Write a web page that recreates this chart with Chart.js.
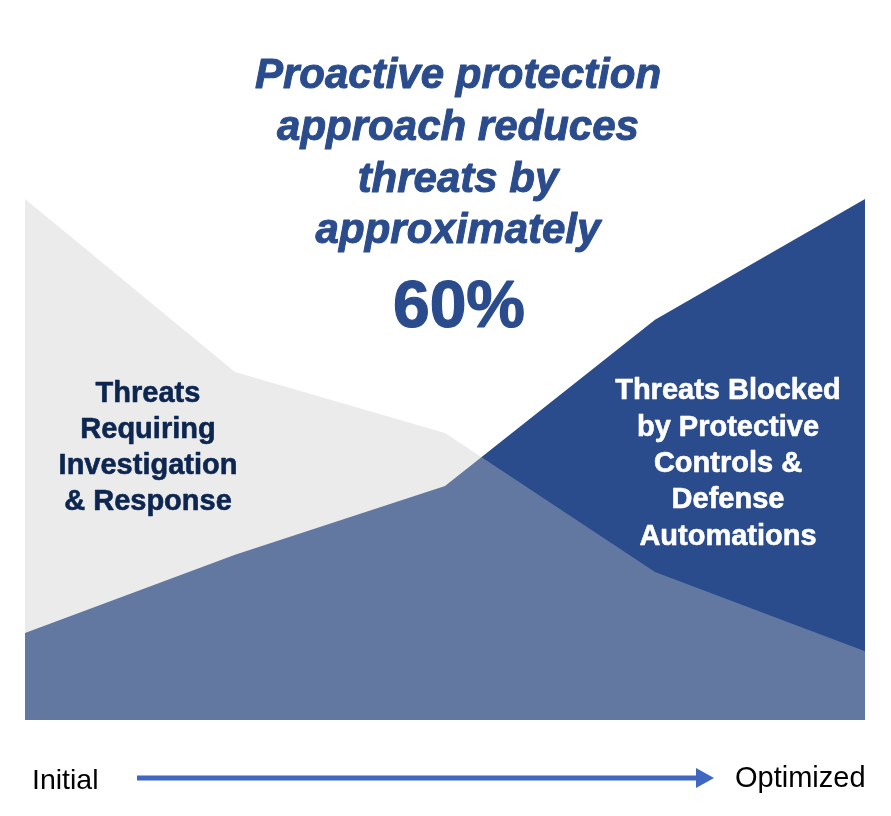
<!DOCTYPE html>
<html>
<head>
<meta charset="utf-8">
<script src="https://cdn.jsdelivr.net/npm/chart.js@4"></script>
<style>
    html, body { margin: 0; padding: 0; background: #ffffff; }
    #wrap { width: 891px; height: 816px; }
</style>
</head>
<body>
<div id="wrap"><canvas id="threat-chart" width="891" height="816"></canvas></div>
<script>
// data (share of peak threat volume, %)
const stages = ['Stage 1', 'Stage 2', 'Stage 3', 'Stage 4', 'Stage 5'];
const investigateValues = [100, 66.8, 55.1, 28.4, 13.2];
const blockedValues = [16.7, 31.7, 44.9, 76.8, 100];

// text
const titleLines = ['Proactive protection', 'approach reduces', 'threats by', 'approximately'];
const titleValue = '60%';
const leftLabel = ['Threats', 'Requiring', 'Investigation', '& Response'];
const rightLabel = ['Threats Blocked', 'by Protective', 'Controls &', 'Defense', 'Automations'];
const startLabel = 'Initial';
const endLabel = 'Optimized';

const FONT = '"Liberation Sans", Arial, Helvetica, sans-serif';
const BLUE = '#2b4c8c';

// bold text with a thin outline so it reads as heavy as the original
function heavyText(ctx, text, x, y, color, width) {
    ctx.fillStyle = color;
    ctx.strokeStyle = color;
    ctx.lineWidth = width;
    ctx.lineJoin = 'round';
    ctx.strokeText(text, x, y);
    ctx.fillText(text, x, y);
}

// labels, title and arrow drawn on top of the areas
const annotations = {
    id: 'annotations',
    afterDraw(chart) {
        const ctx = chart.ctx;
        ctx.save();
        ctx.textAlign = 'center';
        ctx.textBaseline = 'alphabetic';

        // title
        ctx.font = 'italic bold 42px ' + FONT;
        [88, 140, 192, 243].forEach((y, i) => heavyText(ctx, titleLines[i], 458, y, BLUE, 1));
        ctx.font = 'bold 66px ' + FONT;
        heavyText(ctx, titleValue, 459, 327, BLUE, 1.2);

        // area labels
        ctx.font = 'bold 29px ' + FONT;
        [402, 438, 474, 510].forEach((y, i) => heavyText(ctx, leftLabel[i], 148, y, '#0d2650', 0.6));
        [399, 436, 472, 508, 545].forEach((y, i) => heavyText(ctx, rightLabel[i], 728, y, '#ffffff', 0.6));

        // bottom axis text
        ctx.fillStyle = '#000000';
        ctx.font = '28.5px ' + FONT;
        ctx.textAlign = 'left';
        ctx.fillText(startLabel, 32, 789);
        ctx.font = '29px ' + FONT;
        ctx.fillText(endLabel, 735, 787);

        // arrow
        ctx.strokeStyle = '#3f66c1';
        ctx.fillStyle = '#3f66c1';
        ctx.lineWidth = 5;
        ctx.beginPath();
        ctx.moveTo(137, 778);
        ctx.lineTo(698, 778);
        ctx.stroke();
        ctx.beginPath();
        ctx.moveTo(696, 768);
        ctx.lineTo(714, 778);
        ctx.lineTo(696, 788);
        ctx.closePath();
        ctx.fill();
        ctx.restore();
    }
};

const ctx = document.getElementById('threat-chart').getContext('2d');
const chart = new Chart(ctx, {
    type: 'line',
    data: {
        labels: stages,
        datasets: [
            {
                label: 'Threats Requiring Investigation & Response',
                data: investigateValues,
                backgroundColor: 'rgba(200, 200, 200, 0.36)',
                borderColor: 'rgba(0, 0, 0, 0)',
                borderWidth: 0,
                pointRadius: 0,
                tension: 0,
                fill: 'origin',
                order: 0
            },
            {
                label: 'Threats Blocked by Protective Controls & Defense Automations',
                data: blockedValues,
                backgroundColor: BLUE,
                borderColor: 'rgba(0, 0, 0, 0)',
                borderWidth: 0,
                pointRadius: 0,
                tension: 0,
                fill: 'origin',
                order: 1
            }
        ]
    },
    options: {
        responsive: false,
        animation: false,
        layout: {
            padding: { left: 25, right: 26, top: 199, bottom: 96 }
        },
        scales: {
            x: { display: false, offset: false },
            y: { display: false, min: 0, max: 100 }
        },
        plugins: {
            legend: { display: false },
            tooltip: { enabled: false }
        }
    },
    plugins: [annotations]
});
</script>
</body>
</html>
